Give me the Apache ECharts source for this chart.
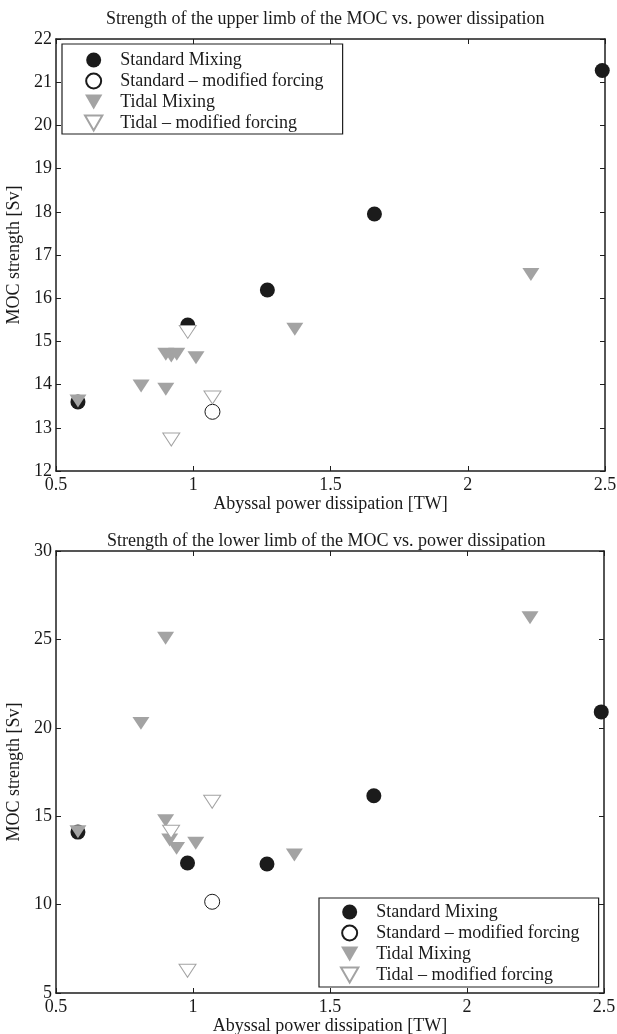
<!DOCTYPE html>
<html><head><meta charset="utf-8">
<script src="https://cdn.jsdelivr.net/npm/echarts@6/dist/echarts.min.js"></script>
<style>html,body{margin:0;padding:0;background:#fff}#c{width:617px;height:1034px}</style>
</head><body><div id="c"></div>
<script>
const seriesNames = ['Standard Mixing', 'Standard \u2013 modified forcing', 'Tidal Mixing', 'Tidal \u2013 modified forcing'];
const titles = ['Strength of the upper limb of the MOC vs. power dissipation', 'Strength of the lower limb of the MOC vs. power dissipation'];
const xName = 'Abyssal power dissipation [TW]';
const yName = 'MOC strength [Sv]';

// upper limb
const upperStandard = [[0.58,13.60],[0.98,15.38],[1.27,16.19],[1.66,17.95],[2.49,21.27]];
const upperStandardMod = [[1.07,13.37]];
const upperTidal = [[0.58,13.62],[0.81,13.97],[0.90,13.89],[0.90,14.70],[0.92,14.66],[0.94,14.70],[1.01,14.62],[1.37,15.28],[2.23,16.55]];
const upperTidalMod = [[0.98,15.22],[1.07,13.70],[0.92,12.73]];
// lower limb
const lowerStandard = [[0.58,14.10],[0.98,12.35],[1.27,12.30],[1.66,16.16],[2.49,20.90]];
const lowerStandardMod = [[1.07,10.16]];
const lowerTidal = [[0.58,14.12],[0.81,20.25],[0.90,25.06],[0.90,14.75],[0.915,13.65],[0.94,13.18],[1.01,13.47],[1.37,12.80],[2.23,26.23]];
const lowerTidalMod = [[1.07,15.82],[0.92,14.12],[0.98,6.26]];

const xRange = {min:0.5, max:2.5, interval:0.5};
const upperYRange = {min:12, max:22, interval:1};
const lowerYRange = {min:5, max:30, interval:5};

const FONT = 'Liberation Serif';
const FS = 18;
const AX = '#1e1e1e';
const TXT = '#1a1a1a';
const TRI = 'path://M0,0 L20,0 L10,17.3 Z';

function axisBase(range, showLabel, extra) {
  return Object.assign({
    type:'value', min:range.min, max:range.max, interval:range.interval,
    axisLine:{show:true, onZero:false, lineStyle:{color:AX, width:1.5}},
    axisTick:{show:true, inside:true, length:5, lineStyle:{color:AX, width:1}},
    splitLine:{show:false},
    axisLabel:{show:showLabel, color:TXT, fontFamily:FONT, fontSize:FS, margin:4, formatter:v=>String(v)}
  }, extra);
}

const styles = [
  {symbol:'circle', symbolSize:15, itemStyle:{color:'#1b1b1b', borderColor:'#1b1b1b', borderWidth:0, opacity:1}},
  {symbol:'circle', symbolSize:15, itemStyle:{color:'#ffffff', borderColor:'#1b1b1b', borderWidth:1, opacity:1}},
  {symbol:TRI, symbolSize:[17,15], itemStyle:{color:'#a3a3a3', borderColor:'#a3a3a3', borderWidth:0, opacity:1}},
  {symbol:TRI, symbolSize:[17,15], itemStyle:{color:'#ffffff', borderColor:'#a3a3a3', borderWidth:1, opacity:1}}
];

const upperData = [upperStandard, upperStandardMod, upperTidal, upperTidalMod];
const lowerData = [lowerStandard, lowerStandardMod, lowerTidal, lowerTidalMod];

const series = [];
[upperData, lowerData].forEach((set, gi) => {
  set.forEach((d, i) => {
    series.push(Object.assign({
      type:'scatter', name:seriesNames[i], xAxisIndex:gi*2, yAxisIndex:gi*2,
      data:d, symbolKeepAspect:true, z:2+i, emphasis:{disabled:true}, animation:false
    }, styles[i]));
  });
});

function legend(left, top, pad) {
  return {
    data:seriesNames, orient:'vertical', left:left, top:top, itemWidth:43, itemHeight:15, itemGap:3,
    padding:pad, borderColor:'#1e1e1e', borderWidth:1.2, backgroundColor:'#fff',
    symbolKeepAspect:true, selectedMode:false,
    textStyle:{fontFamily:FONT, fontSize:FS, color:TXT, lineHeight:18}
  };
}

const nameStyle = {fontFamily:FONT, fontSize:FS, color:TXT};
const xLabel = {show:true, color:TXT, fontFamily:FONT, fontSize:FS, margin:5, formatter:v=>String(v)};

const option = {
  backgroundColor:'#fff',
  animation:false,
  title:[
    {text:titles[0], left:106, top:10, padding:0, textStyle:{fontFamily:FONT, fontSize:FS, fontWeight:'normal', color:TXT}},
    {text:titles[1], left:107, top:532, padding:0, textStyle:{fontFamily:FONT, fontSize:FS, fontWeight:'normal', color:TXT}}
  ],
  grid:[
    {left:56, top:39, width:549, height:432, containLabel:false, outerBoundsMode:'none'},
    {left:56, top:551, width:548, height:442, containLabel:false, outerBoundsMode:'none'}
  ],
  xAxis:[
    axisBase(xRange, true, {gridIndex:0, position:'bottom', name:xName, nameLocation:'middle', nameGap:22, nameTextStyle:nameStyle, axisLabel:xLabel}),
    axisBase(xRange, false, {gridIndex:0, position:'top'}),
    axisBase(xRange, true, {gridIndex:1, position:'bottom', name:xName, nameLocation:'middle', nameGap:22, nameTextStyle:nameStyle, axisLabel:xLabel}),
    axisBase(xRange, false, {gridIndex:1, position:'top'})
  ],
  yAxis:[
    axisBase(upperYRange, true, {gridIndex:0, position:'left', name:yName, nameLocation:'middle', nameGap:29, nameRotate:90, nameTextStyle:nameStyle}),
    axisBase(upperYRange, false, {gridIndex:0, position:'right'}),
    axisBase(lowerYRange, true, {gridIndex:1, position:'left', name:yName, nameLocation:'middle', nameGap:29, nameRotate:90, nameTextStyle:nameStyle}),
    axisBase(lowerYRange, false, {gridIndex:1, position:'right'})
  ],
  legend:[
    legend(62, 44, [7,19,2,22]),
    legend(319, 898, [5,19,3,21])
  ],
  series:series
};

const chart = echarts.init(document.getElementById('c'), null, {renderer:'canvas'});
chart.setOption(option);
</script>
</body></html>
